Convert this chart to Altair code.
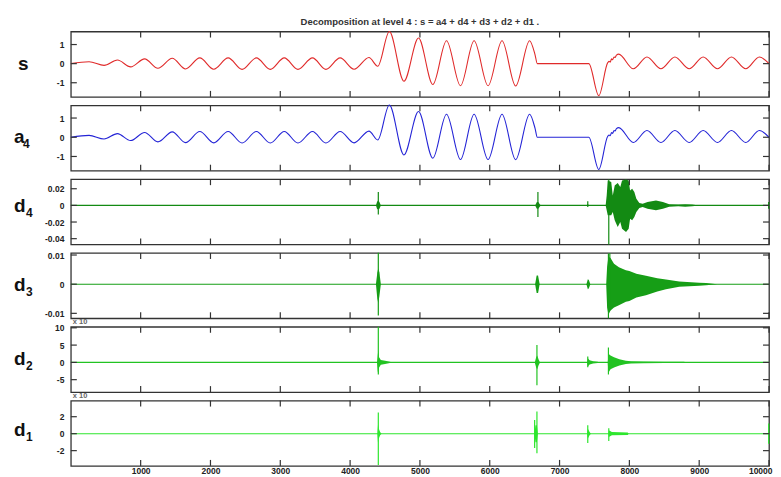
import altair as alt
import pandas as pd

# ---------------- data ----------------
x_ticks = [1000, 2000, 3000, 4000, 5000, 6000, 7000, 8000, 9000, 10000]

# signal s: extrema / knots
s_x = [1, 261, 476, 667, 857, 1057, 1247, 1453, 1643, 1847, 2047, 2253, 2453, 2657,
       2857, 3057, 3253, 3461, 3653, 3857, 4057, 4270, 4396, 4562, 4771, 4980, 5185,
       5381, 5581, 5776, 5976, 6176, 6371, 6571, 6650, 6681, 7419, 7562, 7690, 7710,
       7725, 7745, 7760, 7780, 7795, 7815, 7847, 8057, 8252, 8452, 8652, 8857, 9057,
       9262, 9462, 9667, 9862, 10000]
s_y = [0, 0.10, -0.09, 0.19, -0.17, 0.25, -0.24, 0.28, -0.28, 0.30, -0.29, 0.30, -0.30, 0.30,
       -0.30, 0.30, -0.30, 0.30, -0.30, 0.30, -0.29, 0.32, -0.14, 1.68, -0.92, 1.34, -1.09,
       1.20, -1.16, 1.20, -1.16, 1.20, -1.17, 1.20, 0.45, 0.0, 0.0, -1.68, 0.05, 0.12,
       0.08, 0.25, 0.20, 0.35, 0.33, 0.45, 0.50, -0.27, 0.35, -0.27, 0.35, -0.27, 0.35,
       -0.27, 0.35, -0.27, 0.35, 0.0]

# approximation a4 (reads the same as s)
a4_x = list(s_x)
a4_y = list(s_y)

# detail baselines
base_x = [1, 10000]
base_y = [0, 0]

# d4 bursts (envelope: burst id, x, upper, lower) and spikes
d4_b = [1]*5 + [2]*4 + [3]*3 + [4]*25
d4_x = [4370, 4385, 4400, 4420, 4440,
        6650, 6675, 6695, 6730,
        7390, 7404, 7420,
        7660, 7675, 7690, 7740, 7762, 7790, 7833, 7870, 7895, 7952, 7990, 8010, 8040,
        8071, 8100, 8143, 8190, 8260, 8381, 8480, 8571, 8700, 8800, 8900, 9000]
d4_hi = [0, 0.004, 0.006, 0.004, 0,
         0, 0.004, 0.004, 0,
         0, 0.002, 0,
         0, 0.012, 0.030, 0.028, 0.012, 0.024, 0.027, 0.022, 0.030, 0.031, 0.030, 0.018, 0.020,
         0.016, 0.008, 0.003, 0.002, 0.004, 0.006, 0.004, 0.0015, 0.001, 0.0015, 0.001, 0]
d4_lo = [0, -0.004, -0.005, -0.004, 0,
         0, -0.004, -0.004, 0,
         0, -0.001, 0,
         0, -0.006, -0.012, -0.012, -0.008, -0.018, -0.026, -0.020, -0.028, -0.032, -0.028, -0.016, -0.018,
         -0.014, -0.008, -0.003, -0.002, -0.004, -0.006, -0.004, -0.0015, -0.001, -0.0015, -0.001, 0]
d4_sx = [4404, 6690, 7404, 7705, 9995]
d4_shi = [0.016, 0.016, 0.005, 0.031, 0.004]
d4_slo = [-0.011, -0.014, -0.002, -0.047, -0.004]

# d3
d3_b = [1]*5 + [2]*4 + [3]*4 + [4]*16
d3_x = [4370, 4390, 4404, 4420, 4440,
        6650, 6672, 6692, 6715,
        7385, 7405, 7420, 7440,
        7668, 7681, 7700, 7730, 7780, 7850, 7950, 8000, 8100, 8238, 8400, 8524, 8714, 9000, 9100, 9257]
d3_hi = [0, 0.004, 0.0055, 0.004, 0,
         0, 0.003, 0.003, 0,
         0, 0.0017, 0.0014, 0,
         0, 0.006, 0.0095, 0.009, 0.007, 0.0058, 0.0048, 0.0045, 0.0036, 0.0029, 0.002, 0.0016,
         0.0009, 0.0005, 0.0004, 0]
d3_lo = [0, -0.005, -0.0065, -0.004, 0,
         0, -0.003, -0.003, 0,
         0, -0.0017, -0.0014, 0,
         0, -0.008, -0.0105, -0.009, -0.008, -0.0072, -0.006, -0.0058, -0.0046, -0.0038, -0.0025,
         -0.0017, -0.0009, -0.0005, -0.0004, 0]
d3_sx = [4404, 7700, 7720]
d3_shi = [0.0108, 0.0105, 0.0106]
d3_slo = [-0.0107, -0.0117, -0.009]

# d2 (x 10^-3)
d2_b = [1]*8 + [2]*5 + [3]*6 + [4]*11
d2_x = [4385, 4395, 4404, 4415, 4440, 4500, 4570, 4600,
        6645, 6665, 6680, 6700, 6720,
        7395, 7405, 7430, 7480, 7547, 7560,
        7690, 7700, 7730, 7780, 7857, 7950, 8024, 8200, 8500, 8786, 8800]
d2_hi = [0, 2, 3.5, 1.5, 0.7, 0.5, 0.2, 0,
         0, 1.5, 2, 0.8, 0,
         0, 1.2, 0.6, 0.3, 0.15, 0,
         0, 2.5, 2, 1.5, 0.9, 0.5, 0.35, 0.25, 0.2, 0.15, 0]
d2_lo = [0, -2.5, -3.5, -1.5, -0.7, -0.5, -0.2, 0,
         0, -1.5, -2, -0.8, 0,
         0, -1.2, -0.6, -0.3, -0.15, 0,
         0, -3, -2, -1.5, -0.9, -0.5, -0.35, -0.25, -0.2, -0.15, 0]
d2_sx = [4404, 6676, 7404, 7700]
d2_shi = [10.3, 5.0, 1.7, 4.3]
d2_slo = [-3.5, -6.6, -1.4, -3.5]

# d1 (x 10^-3)
d1_b = [1]*5 + [2]*4 + [3]*4 + [4]*5
d1_x = [4390, 4400, 4410, 4430, 4450,
        6640, 6655, 6675, 6690,
        7395, 7404, 7430, 7450,
        7700, 7705, 7750, 7976, 7990]
d1_hi = [0, 1.1, 0.6, 0.2, 0,
         0, 1, 1, 0,
         0, 0.6, 0.2, 0,
         0, 0.4, 0.2, 0.15, 0]
d1_lo = [0, -1.1, -0.6, -0.2, 0,
         0, -1, -1, 0,
         0, -0.6, -0.2, 0,
         0, -0.4, -0.2, -0.15, 0]
d1_sx = [4404, 6643, 6676, 7404, 7705, 9995]
d1_shi = [2.5, 1.6, 2.6, 1.0, 0.65, 1.2]
d1_slo = [-3.7, -1.7, -2.3, -1.1, -0.85, -1.2]

# panel settings
names = ["s", "a", "d", "d", "d", "d"]
subs = ["", "4", "4", "3", "2", "1"]
colors = ["#e02a2a", "#2424d6", "#138a13", "#169e16", "#22c322", "#2ee62e"]
y_domains = [[-1.74, 1.68], [-1.74, 1.66], [-0.047, 0.0315], [-0.0117, 0.0107],
             [-8.6, 10.3], [-3.8, 3.9]]
y_ticks = [[-1, 0, 1], [-1, 0, 1], [-0.04, -0.02, 0, 0.02], [-0.01, 0, 0.01],
           [-5, 0, 5, 10], [-2, 0, 2]]
label_base = [38.5, 38, 33, 38, 38, 36]
title_text = "Decomposition at level 4 : s = a4 + d4 + d3 + d2 + d1 ."

# ---------------- chart ----------------
FONT = "Liberation Sans"
W = 700
H = 65.5
XS = alt.Scale(domain=[0, 10000], nice=False, zero=False)


def x_axis(show):
    if not show:
        return None
    return alt.Axis(values=x_ticks, labelExpr="toString(datum.value)", title=None,
                    ticks=False, tickSize=0, domain=False, grid=False, labelFont=FONT,
                    labelFontSize=8.5, labelFontWeight="bold", labelColor="#222",
                    labelPadding=1, labelOverlap=False, labelFlush=True,
                    labelFlushOffset=3, labelBound=False)


def y_axis(ticks):
    return alt.Axis(values=ticks, labelExpr="toString(datum.value)", title=None,
                    ticks=False, tickSize=0, domain=False, grid=False, labelFont=FONT,
                    labelFontSize=8.5, labelFontWeight="bold", labelColor="#222",
                    labelPadding=7, labelOverlap=False, labelFlush=False, labelBound=False)


def panel(i, series, env, spikes, show_x):
    ys = alt.Scale(domain=y_domains[i], nice=False, zero=False)
    xa = x_axis(show_x)
    ya = y_axis(y_ticks[i])
    X = lambda f: alt.X(f, type="quantitative", scale=XS, axis=xa)
    Y = lambda f: alt.Y(f, type="quantitative", scale=ys, axis=ya)
    c = colors[i]
    layers = []
    interp = "monotone" if i < 2 else "linear"
    layers.append(alt.Chart(series).mark_line(interpolate=interp, color=c, strokeWidth=1.1)
                  .encode(x=X("x"), y=Y("y")))
    if env is not None:
        layers.append(alt.Chart(env).mark_area(color=c, opacity=1, interpolate="linear")
                      .encode(x=X("x"), y=Y("hi"), y2="lo", detail="b:N"))
    if spikes is not None:
        layers.append(alt.Chart(spikes).mark_rule(color=c, strokeWidth=1.2)
                      .encode(x=X("x"), y=Y("hi"), y2="lo"))
    yt = pd.DataFrame({"v": y_ticks[i]})
    xt = pd.DataFrame({"v": x_ticks})
    tick_style = dict(color="#333", strokeWidth=1.2)
    layers.append(alt.Chart(yt).mark_rule(**tick_style)
                  .encode(y=Y("v"), x=alt.value(0), x2=alt.value(6)))
    layers.append(alt.Chart(yt).mark_rule(**tick_style)
                  .encode(y=Y("v"), x=alt.value(W - 6), x2=alt.value(W)))
    layers.append(alt.Chart(xt).mark_rule(**tick_style)
                  .encode(x=X("v"), y=alt.value(0), y2=alt.value(6)))
    layers.append(alt.Chart(xt).mark_rule(**tick_style)
                  .encode(x=X("v"), y=alt.value(H - 6), y2=alt.value(H)))
    one = pd.DataFrame({"t": [names[i]]})
    layers.append(alt.Chart(one).mark_text(font=FONT, fontSize=19, fontWeight="bold",
                                           align="left", baseline="alphabetic", color="#111")
                  .encode(text="t:N", x=alt.value(-57 if names[i] != "s" else -53),
                          y=alt.value(label_base[i])))
    if subs[i]:
        sub = pd.DataFrame({"t": [subs[i]]})
        layers.append(alt.Chart(sub).mark_text(font=FONT, fontSize=12, fontWeight="bold",
                                               align="left", baseline="alphabetic", color="#111")
                      .encode(text="t:N", x=alt.value(-45 if names[i] == "d" else -48),
                              y=alt.value(label_base[i] + 5)))
    if i == 0:
        tt = pd.DataFrame({"t": [title_text]})
        layers.append(alt.Chart(tt).mark_text(font=FONT, fontSize=9.5, fontWeight="bold",
                                              align="center", baseline="middle", color="#333")
                      .encode(text="t:N", x=alt.value(W / 2), y=alt.value(-10)))
    if i >= 4:
        ex = pd.DataFrame({"t": ["x 10"]})
        layers.append(alt.Chart(ex).mark_text(font=FONT, fontSize=7.5, fontWeight="bold",
                                              align="left", baseline="bottom", color="#666")
                      .encode(text="t:N", x=alt.value(2), y=alt.value(-0.5)))
    return alt.layer(*layers).properties(width=W, height=H)


def env_df(b, x, hi, lo):
    return pd.DataFrame({"b": b, "x": x, "hi": hi, "lo": lo})


def spk_df(x, hi, lo):
    return pd.DataFrame({"x": x, "hi": hi, "lo": lo})


base_df = pd.DataFrame({"x": base_x, "y": base_y})
panels = [
    panel(0, pd.DataFrame({"x": s_x, "y": s_y}), None, None, False),
    panel(1, pd.DataFrame({"x": a4_x, "y": a4_y}), None, None, False),
    panel(2, base_df, env_df(d4_b, d4_x, d4_hi, d4_lo), spk_df(d4_sx, d4_shi, d4_slo), False),
    panel(3, base_df, env_df(d3_b, d3_x, d3_hi, d3_lo), spk_df(d3_sx, d3_shi, d3_slo), False),
    panel(4, base_df, env_df(d2_b, d2_x, d2_hi, d2_lo), spk_df(d2_sx, d2_shi, d2_slo), False),
    panel(5, base_df, env_df(d1_b, d1_x, d1_hi, d1_lo), spk_df(d1_sx, d1_shi, d1_slo), True),
]

chart = (alt.vconcat(*panels, spacing=8, bounds="flush")
         .resolve_scale(y="independent")
         .properties(padding={"left": 5, "top": 7, "right": 0, "bottom": 0}, background="white")
         .configure_view(stroke="#333", strokeWidth=1.3))

chart.save("out.html", embed_options={"renderer": "svg", "actions": False})
